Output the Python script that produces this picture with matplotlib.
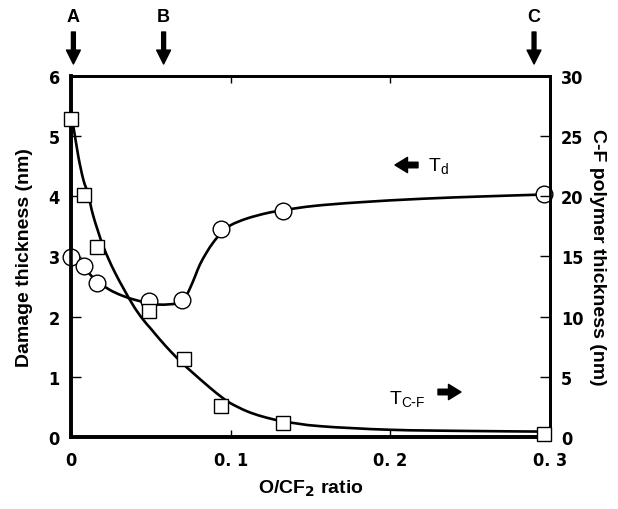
import matplotlib
matplotlib.use("Agg")
import matplotlib.pyplot as plt
import numpy as np
from matplotlib.path import Path
from matplotlib.patches import PathPatch
from matplotlib.transforms import blended_transform_factory
from matplotlib import font_manager

# ---------------- data ----------------
# damage thickness T_d (left axis, nm)
td_x = [0.0, 0.008, 0.016, 0.049, 0.0695, 0.094, 0.133, 0.296]
td_y = [3.0, 2.84, 2.56, 2.26, 2.28, 3.45, 3.76, 4.04]
# fitted curve for T_d
td_curve_x = [0.0, 0.004, 0.008, 0.012, 0.016, 0.024, 0.032, 0.04, 0.048, 0.056,
              0.066, 0.071, 0.0745, 0.078, 0.0808, 0.085, 0.089, 0.094, 0.1, 0.11,
              0.1225, 0.133, 0.152, 0.18, 0.22, 0.26, 0.296]
td_curve_y = [3.0, 2.9, 2.81, 2.7, 2.6, 2.45, 2.35, 2.28, 2.23, 2.2,
              2.22, 2.3, 2.47, 2.69, 2.87, 3.07, 3.23, 3.39, 3.52, 3.63,
              3.72, 3.77, 3.84, 3.9, 3.96, 4.0, 4.03]

# C-F polymer thickness T_C-F (right axis, nm)
cf_x = [0.0, 0.008, 0.016, 0.049, 0.0705, 0.094, 0.133, 0.296]
cf_y = [26.4, 20.15, 15.8, 10.5, 6.5, 2.55, 1.15, 0.25]
cf_curve_x = [0.0, 0.0015, 0.0046, 0.0077, 0.0108, 0.014, 0.0202, 0.0276, 0.038,
              0.0443, 0.05, 0.0557, 0.0625, 0.07, 0.0766, 0.087, 0.094, 0.1, 0.11,
              0.12, 0.133, 0.156, 0.2, 0.25, 0.296]
cf_curve_y = [26.6, 25.8, 23.3, 21.4, 20.15, 18.35, 15.85, 13.65, 11.15,
              9.9, 9.0, 8.1, 7.1, 6.1, 5.3, 4.1, 3.35, 2.8, 2.15,
              1.7, 1.3, 0.9, 0.6, 0.5, 0.45]

x_ticks = [0, 0.1, 0.2, 0.3]
x_tick_labels = ["0", "0. 1", "0. 2", "0. 3"]
left_ticks = [0, 1, 2, 3, 4, 5, 6]
right_ticks = [0, 5, 10, 15, 20, 25, 30]

condition_labels = ["A", "B", "C"]
condition_x = [0.0015, 0.058, 0.29]

# ---------------- fonts ----------------
avail = {f.name for f in font_manager.fontManager.ttflist}
narrow = ["Liberation Sans Narrow", "DejaVu Sans"] if "Liberation Sans Narrow" in avail else ["DejaVu Sans"]
sans = ["Liberation Sans", "DejaVu Sans"]

W, H = 618, 510
fig = plt.figure(figsize=(W / 100, H / 100), dpi=100)
ax = fig.add_axes([71 / W, 1 - 438 / H, (550 - 71) / W, (438 - 77) / H])
ax2 = ax.twinx()


def smooth_path(xs, ys):
    """Catmull-Rom style Bezier path through the read curve points."""
    p = np.column_stack([xs, ys]).astype(float)
    verts = [p[0]]
    codes = [Path.MOVETO]
    n = len(p)
    for i in range(n - 1):
        p0 = p[i - 1] if i > 0 else p[i]
        p1, p2 = p[i], p[i + 1]
        p3 = p[i + 2] if i + 2 < n else p[i + 1]
        c1 = p1 + (p2 - p0) / 6.0
        c2 = p2 - (p3 - p1) / 6.0
        verts += [c1, c2, p2]
        codes += [Path.CURVE4] * 3
    return Path(verts, codes)


lw_curve = 1.9
ax.add_patch(PathPatch(smooth_path(td_curve_x, td_curve_y), fill=False,
                       ec="black", lw=lw_curve, zorder=2, clip_on=False))
ax.plot(td_x, td_y, ls="none", marker="o", ms=12, mfc="white", mec="black",
        mew=1.0, zorder=3, clip_on=False)
ax2.add_patch(PathPatch(smooth_path(cf_curve_x, cf_curve_y), fill=False,
                        ec="black", lw=lw_curve, zorder=2, clip_on=False))
ax2.plot(cf_x, cf_y, ls="none", marker="s", ms=10, mfc="white", mec="black",
         mew=1.0, zorder=3, clip_on=False)

ax.set_xlim(0, 0.3)
ax.set_ylim(0, 6)
ax2.set_ylim(0, 30)

ax.set_xticks(x_ticks)
ax.set_xticklabels(x_tick_labels)
ax.set_yticks(left_ticks)
ax2.set_yticks(right_ticks)

for a in (ax, ax2):
    for lab in a.get_xticklabels() + a.get_yticklabels():
        lab.set_family(narrow)
        lab.set_fontweight("bold")
        lab.set_fontstretch("condensed")
        lab.set_fontsize(13)

ax.tick_params(axis="both", direction="in", length=7, width=1.0, pad=8,
               top=True, right=False)
ax.tick_params(axis="x", length=5, pad=10)
ax2.tick_params(axis="y", direction="in", length=7, width=1.0, pad=8)

for a in (ax, ax2):
    a.spines["left"].set_linewidth(2.6)
    a.spines["bottom"].set_linewidth(2.6)
    a.spines["top"].set_linewidth(2.0)
    a.spines["right"].set_linewidth(2.0)

ax.set_ylabel("Damage thickness (nm)", family=sans, fontweight="bold",
              fontsize=14, labelpad=11)
ax2.set_ylabel("C-F polymer thickness (nm)", family=sans, fontweight="bold",
               fontsize=14, rotation=270, labelpad=16)
ax.set_xlabel("O/CF$_\\mathbf{2}$ ratio", family=sans, fontweight="bold",
              fontsize=14, labelpad=6)

# condition arrows A, B, C
trans = blended_transform_factory(ax.transData, fig.transFigure)
for lab, xv in zip(condition_labels, condition_x):
    fig.text(xv, 1 - 17 / H, lab, transform=trans, family=sans, fontweight="bold",
             fontsize=13, ha="center", va="center")
    ax.annotate("", xy=(xv, 1 - 65 / H), xycoords=trans,
                xytext=(xv, 1 - 33 / H), textcoords=trans,
                arrowprops=dict(arrowstyle="simple,head_length=1.0,head_width=1.0,tail_width=0.28",
                                fc="black", ec="black", mutation_scale=10,
                                shrinkA=0, shrinkB=0),
                annotation_clip=False)


def fig_xy(px, py):
    return (px / W, 1 - py / H)


ax.annotate("", xy=fig_xy(395, 166), xycoords="figure fraction",
            xytext=fig_xy(418, 166), textcoords="figure fraction",
            arrowprops=dict(arrowstyle="simple,head_length=0.9,head_width=1.1,tail_width=0.4",
                            fc="black", ec="black", mutation_scale=10,
                            shrinkA=0, shrinkB=0))
fig.text(*fig_xy(428, 167), "T$_\\mathregular{d}$", family=sans, fontsize=14,
         ha="left", va="center")

fig.text(*fig_xy(389, 400), "T$_\\mathregular{C\\text{-}F}$", family=sans,
         fontsize=14, ha="left", va="center")
ax.annotate("", xy=fig_xy(461, 393), xycoords="figure fraction",
            xytext=fig_xy(438, 393), textcoords="figure fraction",
            arrowprops=dict(arrowstyle="simple,head_length=0.9,head_width=1.1,tail_width=0.4",
                            fc="black", ec="black", mutation_scale=10,
                            shrinkA=0, shrinkB=0))

fig.savefig("out.png", dpi=100)
